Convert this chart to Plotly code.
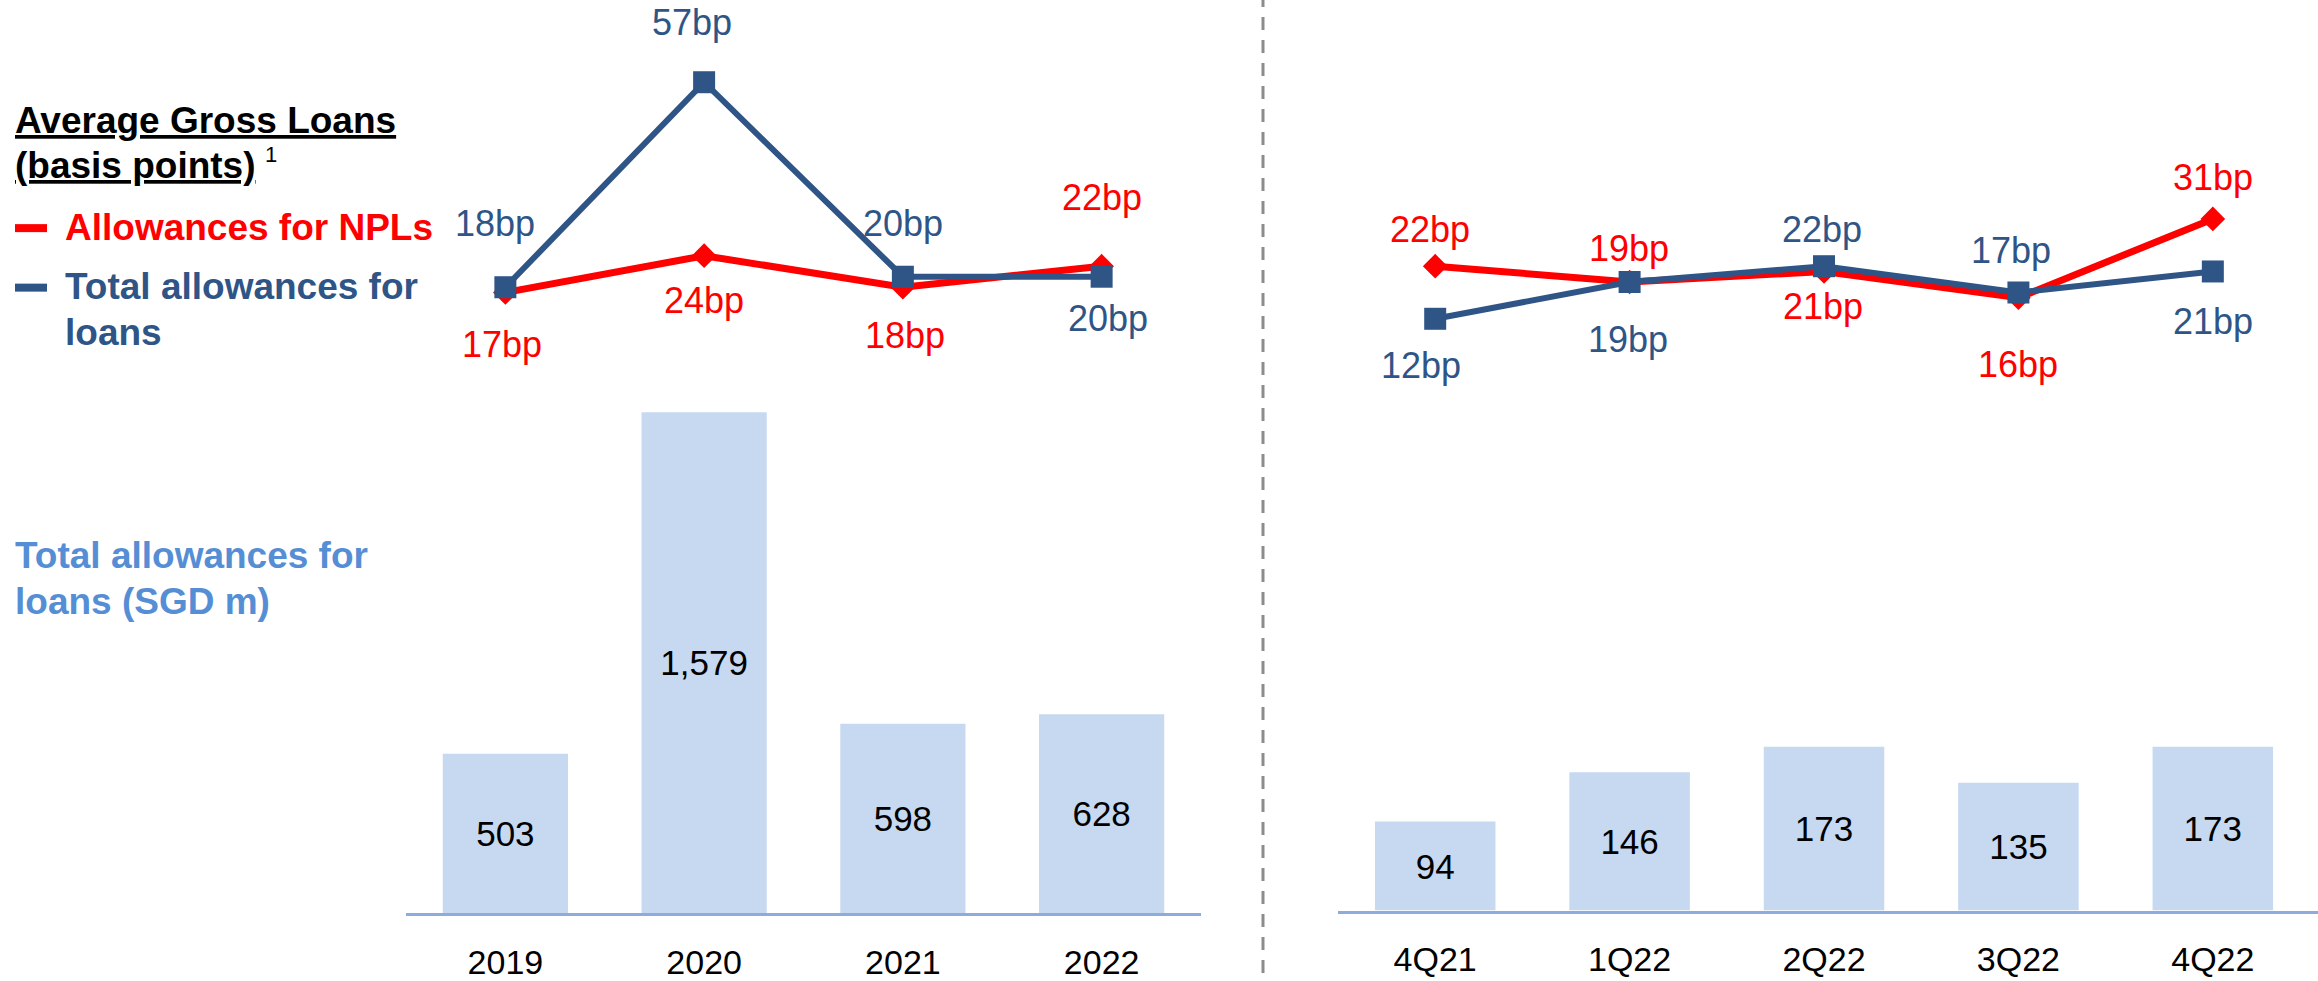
import plotly.graph_objects as go

# ---------------- data ----------------
years = ["2019", "2020", "2021", "2022"]
annual_allowances = [503, 1579, 598, 628]          # SGD m
annual_npl_bp = [17, 24, 18, 22]                   # Allowances for NPLs (bp)
annual_total_bp = [18, 57, 20, 20]                 # Total allowances for loans (bp)

quarters = ["4Q21", "1Q22", "2Q22", "3Q22", "4Q22"]
quarter_allowances = [94, 146, 173, 135, 173]
quarter_npl_bp = [22, 19, 21, 16, 31]
quarter_total_bp = [12, 19, 22, 17, 21]

# ---------------- style ----------------
W, H = 2318, 981
RED = "#FF0000"
NAVY = "#2F5587"
BAR = "#C6D9F1"
AXIS = "#8FAADC"
LIGHT = "#558ED5"
FONT = "Liberation Sans, Arial, sans-serif"

# label offsets (xshift, yshift) in pixels
annual_npl_shift = [(-3, -52), (0, -45), (2, -48), (0, 69)]
annual_total_shift = [(-10, 64), (-12, 60), (0, 53), (6, -42)]
quarter_npl_shift = [(-5, 37), (-1, 33), (-1, -35), (0, -67), (0, 41)]
quarter_total_shift = [(-14, -47), (-2, -58), (-2, 37), (-7, 42), (0, -50)]


def px_y(p):
    return 1 - p / H


def px_x(p):
    return p / W


fig = go.Figure()

# bars
fig.add_trace(go.Bar(x=years, y=annual_allowances, xaxis="x", yaxis="y",
                     marker=dict(color=BAR, line=dict(width=0)), width=0.63,
                     texttemplate="%{y:,}", textposition="inside",
                     insidetextanchor="middle", textangle=0,
                     textfont=dict(family=FONT, size=35, color="black"),
                     hoverinfo="skip", showlegend=False))
fig.add_trace(go.Bar(x=quarters, y=quarter_allowances, xaxis="x2", yaxis="y2",
                     marker=dict(color=BAR, line=dict(width=0)), width=0.62,
                     texttemplate="%{y:,}", textposition="inside",
                     insidetextanchor="middle", textangle=0,
                     textfont=dict(family=FONT, size=35, color="black"),
                     hoverinfo="skip", showlegend=False))

# lines (red first, navy on top)
for xs, npl, tot, xa, ya in [(years, annual_npl_bp, annual_total_bp, "x", "y3"),
                             (quarters, quarter_npl_bp, quarter_total_bp, "x2", "y4")]:
    fig.add_trace(go.Scatter(x=xs, y=npl, xaxis=xa, yaxis=ya, mode="lines+markers",
                             line=dict(color=RED, width=7),
                             marker=dict(symbol="diamond", size=19, color=RED),
                             cliponaxis=False, hoverinfo="skip", showlegend=False))
    fig.add_trace(go.Scatter(x=xs, y=tot, xaxis=xa, yaxis=ya, mode="lines+markers",
                             line=dict(color=NAVY, width=6),
                             marker=dict(symbol="square", size=22, color=NAVY),
                             cliponaxis=False, hoverinfo="skip", showlegend=False))

annotations = []


def add_labels(vals, shifts, color, xref, yref):
    # category axes: annotation x given as category index
    for i, (v, (dx, dy)) in enumerate(zip(vals, shifts)):
        annotations.append(dict(x=i, y=v, xref=xref, yref=yref, text=f"{v}bp",
                                showarrow=False, xshift=dx, yshift=dy,
                                xanchor="center", yanchor="middle",
                                font=dict(family=FONT, size=36, color=color)))


add_labels(annual_npl_bp, annual_npl_shift, RED, "x", "y3")
add_labels(annual_total_bp, annual_total_shift, NAVY, "x", "y3")
add_labels(quarter_npl_bp, quarter_npl_shift, RED, "x2", "y4")
add_labels(quarter_total_bp, quarter_total_shift, NAVY, "x2", "y4")


def text(t, x, y, color, size=37, anchor="left"):
    annotations.append(dict(x=px_x(x), y=px_y(y), xref="paper", yref="paper",
                            text=t, showarrow=False, xanchor=anchor, yanchor="middle",
                            font=dict(family=FONT, size=size, color=color)))


text("<b><u>Average Gross Loans</u></b>", 13, 121, "black")
text("<b><u>(basis points)</u></b>", 13, 167, "black")
text("1", 263, 156, "black", size=22)
text("<b>Allowances for NPLs</b>", 63, 229, RED)
text("<b>Total allowances for</b>", 63, 289, NAVY)
text("<b>loans</b>", 63, 335, NAVY)
text("<b>Total allowances for</b>", 13, 560, LIGHT)
text("<b>loans (SGD m)</b>", 13, 606, LIGHT)

shapes = [
    dict(type="line", xref="paper", yref="paper", x0=px_x(1263), x1=px_x(1263),
         y0=0, y1=1, line=dict(color="#8C8C8C", width=3, dash="13px,10px")),
    dict(type="line", xref="paper", yref="paper", x0=px_x(15), x1=px_x(47),
         y0=px_y(230), y1=px_y(230), line=dict(color=RED, width=8)),
    dict(type="line", xref="paper", yref="paper", x0=px_x(15), x1=px_x(47),
         y0=px_y(290), y1=px_y(290), line=dict(color=NAVY, width=8)),
]

tickfont = dict(family=FONT, size=34, color="black")
xcommon = dict(showgrid=False, zeroline=False, showline=True, linecolor=AXIS,
               linewidth=3, ticks="outside", ticklen=17, tickcolor="rgba(0,0,0,0)",
               tickfont=tickfont, fixedrange=True)

fig.update_layout(
    width=W, height=H, margin=dict(l=0, r=0, t=0, b=0),
    paper_bgcolor="white", plot_bgcolor="rgba(0,0,0,0)",
    bargap=0.37,
    xaxis=dict(domain=[px_x(406), px_x(1201)], range=[-0.5, 3.5], anchor="y",
               type="category", **xcommon),
    yaxis=dict(domain=[px_y(921), px_y(400)], range=[0, 521 / 0.320],
               visible=False, anchor="x"),
    xaxis2=dict(domain=[px_x(1338), 1.0], range=[-0.5, 4.541], anchor="y2",
                type="category", **xcommon),
    yaxis2=dict(domain=[px_y(918), px_y(400)], range=[0, 518 / 0.954],
                visible=False, anchor="x2"),
    yaxis3=dict(domain=[px_y(385), px_y(67)], range=[0, 60], visible=False,
                anchor="x"),
    yaxis4=dict(domain=[px_y(385), px_y(67)], range=[0, 60], visible=False,
                anchor="x2"),
    annotations=annotations, shapes=shapes,
)

fig.write_html(
    "out.html",
    config={"displayModeBar": False},
    post_script="document.body.style.margin='0';document.body.style.overflow='hidden';",
)
